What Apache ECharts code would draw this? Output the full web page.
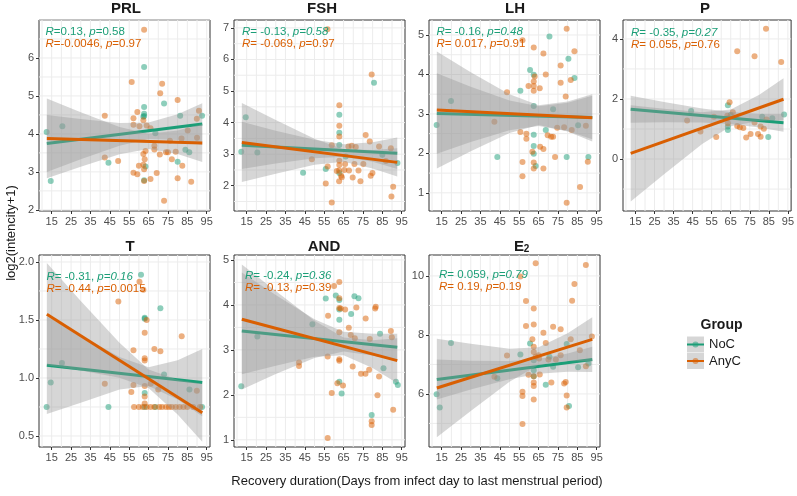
<!DOCTYPE html>
<html>
<head>
<meta charset="utf-8">
<title>Hormones vs recovery duration</title>
<script src="https://cdn.jsdelivr.net/npm/echarts@6/dist/echarts.min.js"></script>
<style>
html, body { margin: 0; padding: 0; background: #fff; }
#chart { width: 797px; height: 496px; }
</style>
</head>
<body>
<div id="chart"></div>
<script>
var FONT = '"Liberation Sans", Arial, sans-serif';
var green = '#1B9E77', orange = '#D95F02';

// ---- data ----
var panelNames = ['PRL', 'FSH', 'LH', 'P', 'T', 'AND', 'E2'];
var xTicks = [15, 25, 35, 45, 55, 65, 75, 85, 95];
var xRange = [8.45, 96.7];
var yTicks = [[2, 3, 4, 5, 6], [2, 3, 4, 5, 6, 7], [1, 2, 3, 4, 5], [0, 2, 4], [0.5, 1.0, 1.5, 2.0], [1, 2, 3, 4, 5], [6, 8, 10]];
var yDecimals = [0, 0, 0, 0, 1, 0, 0];
var yRange = [[1.97, 7.0], [1.2, 7.25], [0.54, 5.38], [-1.73, 4.63], [0.405, 2.06], [0.84, 5.11], [4.2, 10.71]];

var prlNoC = [[12.4,4.05],[14.5,2.76],[20.5,4.2],[44.3,3.24],[62.3,4.45],[62.7,5.76],[62.7,4.71],[62.7,4.53],[62.7,4.47],[63.4,3.14],[62.7,2.78],[68.5,4.02],[73,4.8],[81.3,4.48],[80,3.27],[84,3.58],[86,3.52],[92.6,4.48]];
var prlAnyC = [[62.7,6.74],[56.3,5.37],[72,5.32],[71,5.07],[80,4.89],[59.2,4.58],[42.4,4.48],[57.2,4.41],[62.3,4.36],[57.2,4.24],[60.3,4.2],[64,4.22],[66,4.15],[91,4.61],[89.9,4.4],[85.2,4.09],[82,3.88],[76,3.82],[68,3.69],[68,3.59],[70.8,3.46],[63.4,3.55],[62.3,3.47],[63,3.33],[62.3,3.19],[62.7,3.07],[60,3.16],[42.4,3.38],[49.3,3.29],[74,3.52],[75,3.52],[79,3.53],[77,3.33],[82.4,3.16],[57.2,2.98],[59.2,2.94],[66,2.81],[69.2,2.97],[62.7,2.76],[80,2.83],[87,2.74],[73,2.24],[90,3.9]];
var fshNoC = [[12.2,3.08],[14.5,4.17],[20.5,3.05],[44.1,2.41],[55.8,2.53],[62.8,4.25],[62.8,3.68],[62.8,3.29],[62.8,2.4],[66.1,2.93],[80.7,5.26],[85,2.98],[92.8,2.72]];
var fshAnyC = [[56.7,6.96],[79.5,5.52],[62.8,4.55],[62.8,3.9],[62.8,3.56],[76.4,3.61],[78.5,3.4],[69.2,3.27],[67.5,3.24],[71.3,3.23],[58.9,3.28],[83.3,3.24],[89.4,3.19],[48.6,2.84],[56.8,2.61],[62.8,2.79],[62.8,2.66],[65.8,2.69],[70.6,2.69],[75.2,2.69],[62.7,2.48],[61.5,2.47],[65.4,2.5],[67.8,2.48],[72.7,2.48],[79,2.32],[79.9,2.4],[63.7,2.32],[64.1,2.27],[69.7,2.26],[73.7,2.14],[62.7,2.14],[55.8,2.07],[58.9,1.47],[90.6,1.97],[89.7,1.66],[86.8,2.78]];
var lhNoC = [[12.4,2.72],[19.8,3.33],[43.7,1.91],[55.6,3.59],[60.6,4.11],[62.5,3.99],[62.5,3.2],[62.5,2.47],[62.5,2.19],[62.5,1.99],[63.5,1.68],[70.6,4.96],[68.7,2.59],[72.5,3.12],[80.4,4.4],[83.5,3.91],[79.5,1.91],[85.4,2.71],[90.7,1.91]];
var lhAnyC = [[79.5,5.16],[56.7,4.87],[62.5,4.68],[67.5,4.53],[83.5,4.59],[76.4,4.23],[68.7,4.0],[63,3.95],[62.5,3.82],[59.8,3.71],[62.5,3.71],[65.6,3.65],[62.5,3.59],[76.4,3.79],[81.6,3.86],[48.7,3.55],[79,3.44],[42.2,2.8],[55.6,2.54],[58.7,2.5],[58.7,2.37],[69.7,2.46],[71.5,2.42],[72.5,2.42],[74.6,2.65],[78.2,2.66],[82.1,2.59],[89.4,2.7],[65.8,2.17],[67.5,2.11],[61.8,2.04],[62.5,1.77],[62.5,1.62],[67.5,1.62],[56.7,1.78],[56.7,1.42],[73.5,1.91],[90.4,1.79],[86.4,1.15],[79.5,0.75]];
var pNoC = [[44.2,1.6],[63.5,1.79],[63.5,1.08],[63.5,0.97],[65,1.47],[81.5,1.41],[84.7,0.73],[86.8,1.36],[93,1.48]];
var pAnyC = [[83.5,4.34],[68.4,3.59],[77.5,3.42],[91.5,3.23],[64.4,1.89],[66.1,1.56],[63.2,1.44],[42.1,1.28],[49.1,0.92],[57.4,0.73],[68.4,1.1],[69.8,1.06],[71.6,1.03],[73.1,0.72],[75.4,0.83],[77.5,1.22],[79.3,0.83],[80.7,0.74],[80.7,1.08],[82.4,1.01],[83.8,1.32],[63.5,1.19],[63.5,1.36],[56.2,1.41]];
var tNoC = [[12.4,0.75],[14.5,0.96],[20.3,1.13],[44.3,0.75],[61.1,1.89],[63,1.52],[63,1.51],[71.1,1.6],[73,1.03],[63,0.87],[86.1,0.9],[92.6,0.75],[63,0.75],[68.5,0.75]];
var tAnyC = [[60.3,1.83],[62.3,1.76],[49.4,1.66],[64,1.5],[63,1.39],[82.1,1.36],[57.2,1.24],[68,1.25],[71.1,1.23],[63,1.17],[63,1.15],[42.4,0.95],[57.2,0.94],[56.1,0.88],[63,0.93],[63,0.84],[63,0.78],[66.1,0.95],[70,0.9],[89.9,0.89],[57.5,0.75],[60,0.75],[62,0.75],[64,0.75],[66,0.75],[68,0.75],[70.5,0.75],[72,0.75],[74,0.75],[75.5,0.75],[77,0.75],[79,0.75],[81,0.75],[83,0.75],[85,0.75],[88,0.75],[91.5,0.75]];
var andNoC = [[12.2,2.19],[20.5,3.3],[48.9,3.57],[55.8,4.14],[61,4.21],[62.8,4.11],[62.8,3.9],[62.8,3.67],[62.8,2.29],[64,2.03],[68.9,3.8],[70.6,4.19],[72.7,4.15],[79.5,1.55],[83.8,3.36],[85.6,2.59],[92,2.29],[93,2.22]];
var andAnyC = [[62.8,4.51],[60.1,4.42],[62.8,4.15],[62.8,3.93],[63.5,3.92],[65.8,3.9],[71.6,3.94],[81.3,3.92],[81.6,3.96],[76.4,3.7],[57,3.76],[67.7,3.49],[68.7,3.33],[70.8,3.26],[78.5,3.24],[89.4,3.42],[89.9,3.28],[62.8,3.39],[42,2.72],[42,2.64],[56.8,2.85],[62.8,2.79],[62.8,2.76],[69.7,2.63],[74,2.47],[76.3,2.47],[78.2,2.56],[83.3,2.41],[61.8,2.26],[64.7,2.21],[58.9,2.04],[82.5,1.99],[79.5,1.41],[79.5,1.33],[90.6,1.67],[56.8,1.04]];
var e2NoC = [[12.4,5.99],[14,5.54],[19.8,7.73],[43.7,6.53],[55.6,7.34],[60.6,7.71],[62.5,7.14],[62.5,6.8],[62.5,6.6],[68.7,6.31],[70.6,7.26],[72.5,6.92],[79.5,7.69],[80.7,5.59],[85.4,6.9],[90.7,7.03]];
var e2AnyC = [[63.5,10.43],[89.4,10.37],[55.6,9.98],[83.5,9.73],[58.5,9.15],[82.3,9.16],[62.5,8.9],[58.5,8.3],[62.5,8.35],[67.5,8.07],[72.5,8.28],[76.4,8.19],[61.8,7.85],[81.6,7.85],[68.7,7.73],[48.7,7.3],[62.5,7.6],[62.5,7.42],[63.5,7.26],[65,7.31],[65.3,7.2],[70.1,7.17],[73.9,7.17],[76.4,7.31],[86.3,7.48],[89.4,6.94],[42.2,6.58],[59.8,6.65],[65.6,6.66],[71.6,6.39],[78.2,6.35],[79,6.4],[62.5,6.39],[62.5,6.27],[56.7,6.07],[56.7,5.93],[79.5,5.95],[79.5,5.54],[62.5,5.81],[56.7,4.98],[62.5,6.6],[92.5,7.95]];

var pointsNoC = [prlNoC, fshNoC, lhNoC, pNoC, tNoC, andNoC, e2NoC];
var pointsAnyC = [prlAnyC, fshAnyC, lhAnyC, pAnyC, tAnyC, andAnyC, e2AnyC];

// fitted lines: y at fitX[0] and fitX[1]
var fitX = [12.5, 92.7];
var fitNoC = [[3.75,4.26],[3.28,3.03],[3.01,2.91],[1.66,1.21],[1.11,0.96],[3.42,3.06],[6.49,7.17]];
var fitAnyC = [[3.88,3.76],[3.37,2.74],[3.10,2.90],[0.19,1.99],[1.55,0.70],[3.68,2.76],[6.20,7.85]];

// confidence band half-widths at bandX
var bandX = [12.5, 30, 50, 65, 80, 92.7];
var bandNoC = [[0.75,0.53,0.30,0.22,0.34,0.55],[0.75,0.52,0.29,0.2,0.31,0.5],[1.02,0.70,0.38,0.25,0.36,0.55],[0.45,0.34,0.23,0.2,0.23,0.3],[0.42,0.29,0.14,0.08,0.17,0.29],[1.3,0.88,0.43,0.22,0.24,0.3],[0.68,0.49,0.31,0.25,0.31,0.43]];
var bandAnyC = [[1.05,0.72,0.36,0.2,0.31,0.5],[1.25,0.85,0.41,0.2,0.29,0.45],[1.48,1.0,0.49,0.25,0.38,0.6],[1.6,1.09,0.53,0.28,0.44,0.7],[0.44,0.30,0.15,0.08,0.15,0.25],[1.22,0.83,0.40,0.2,0.31,0.5],[1.67,1.14,0.56,0.3,0.47,0.75]];

var rNoC = ['0.13','-0.13','-0.16','-0.35','-0.31','-0.24','0.059'];
var pvNoC = ['0.58','0.58','0.48','0.27','0.16','0.36','0.79'];
var rAnyC = ['-0.0046','-0.069','0.017','0.055','-0.44','-0.13','0.19'];
var pvAnyC = ['0.97','0.97','0.91','0.76','0.0015','0.39','0.19'];

// ---- layout ----
var gridLeft = [39, 234, 429, 623, 39, 234, 429];
var gridTop = [20, 20, 20, 20, 255, 255, 255];
var gridH = [191, 191, 191, 191, 192, 192, 192];
var titleX = [126, 322, 515, 705, 130, 324, 519];
var titleY = [9, 9, 9, 9, 246.5, 246.5, 246.5];
var statX = [45.5, 242, 436.5, 631, 46.5, 245, 439];
var statY = [32, 32, 32, 33, 277, 275.5, 275];

function fitAt(fit, x) {
  return fit[0] + (fit[1] - fit[0]) * (x - fitX[0]) / (fitX[1] - fitX[0]);
}

var grids = [], xAxes = [], yAxes = [], series = [], graphics = [];

panelNames.forEach(function (name, i) {
  var yr = yRange[i];
  grids.push({ left: gridLeft[i], top: gridTop[i], width: 171, height: gridH[i], show: true,
    borderColor: '#333', borderWidth: 1, backgroundColor: '#fff' });
  xAxes.push({ type: 'value', gridIndex: i, min: xRange[0], max: xRange[1],
    axisLine: { show: false, onZero: false }, splitLine: { show: false },
    axisTick: { show: true, customValues: xTicks, length: 3, lineStyle: { color: '#333' } },
    axisLabel: { customValues: xTicks, fontSize: 11, color: '#4d4d4d', margin: 5, fontFamily: FONT } });
  yAxes.push({ type: 'value', gridIndex: i, min: yr[0], max: yr[1],
    axisLine: { show: false, onZero: false }, splitLine: { show: false },
    axisTick: { show: true, customValues: yTicks[i], length: 3, lineStyle: { color: '#333' } },
    axisLabel: { customValues: yTicks[i], fontSize: 11, color: '#4d4d4d', margin: 5, fontFamily: FONT,
      formatter: function (v) { return Number(v).toFixed(yDecimals[i]); } } });

  // grid lines (major at ticks, minor halfway)
  series.push({ type: 'custom', z: 1, xAxisIndex: i, yAxisIndex: i, silent: true, data: [[xRange[0], yr[0]]],
    renderItem: function (params, api) {
      var ch = [];
      var xs = xTicks[1] - xTicks[0], ys = yTicks[i][1] - yTicks[i][0];
      var v;
      for (v = xTicks[0] - xs / 2; v <= xRange[1]; v += xs / 2) {
        if (v < xRange[0]) continue;
        var a = api.coord([v, yr[0]]), b = api.coord([v, yr[1]]);
        ch.push({ type: 'line', shape: { x1: a[0], y1: a[1], x2: b[0], y2: b[1] },
          style: { stroke: '#ececec', lineWidth: 1 } });
      }
      for (v = yTicks[i][0] - ys / 2; v <= yr[1]; v += ys / 2) {
        if (v < yr[0]) continue;
        var c = api.coord([xRange[0], v]), d = api.coord([xRange[1], v]);
        ch.push({ type: 'line', shape: { x1: c[0], y1: c[1], x2: d[0], y2: d[1] },
          style: { stroke: '#ececec', lineWidth: 1 } });
      }
      return { type: 'group', children: ch };
    } });

  series.push({ type: 'scatter', z: 2, name: 'NoC', xAxisIndex: i, yAxisIndex: i, data: pointsNoC[i],
    symbolSize: 6, silent: true, itemStyle: { color: green, opacity: 0.5 } });
  series.push({ type: 'scatter', z: 2, name: 'AnyC', xAxisIndex: i, yAxisIndex: i, data: pointsAnyC[i],
    symbolSize: 6, silent: true, itemStyle: { color: orange, opacity: 0.5 } });

  [[fitNoC[i], bandNoC[i], green, 'NoC', 3], [fitAnyC[i], bandAnyC[i], orange, 'AnyC', 5]].forEach(function (g) {
    var fit = g[0], hw = g[1];
    series.push({ type: 'custom', z: g[4], xAxisIndex: i, yAxisIndex: i, clip: true, silent: true,
      data: [[fitX[0], fit[0]]],
      renderItem: function (params, api) {
        var up = [], lo = [];
        bandX.forEach(function (x, k) {
          var y = fitAt(fit, x);
          up.push(api.coord([x, y + hw[k]]));
          lo.unshift(api.coord([x, y - hw[k]]));
        });
        return { type: 'polygon', shape: { points: up.concat(lo) },
          style: { fill: 'rgba(153,153,153,0.4)' } };
      } });
    series.push({ type: 'line', z: g[4] + 1, name: g[3], xAxisIndex: i, yAxisIndex: i, silent: true,
      data: [[fitX[0], fit[0]], [fitX[1], fit[1]]], symbol: 'none',
      lineStyle: { color: g[2], width: 3 } });
  });

  // panel title
  if (name === 'E2') {
    graphics.push({ type: 'text', z: 100, x: titleX[i], y: titleY[i], style: { text: 'E', textAlign: 'center',
      textVerticalAlign: 'middle', font: 'bold 15px ' + FONT, fill: '#1a1a1a' } });
    graphics.push({ type: 'text', z: 100, x: titleX[i] + 7.5, y: titleY[i] + 3, style: { text: '2', textAlign: 'center',
      textVerticalAlign: 'middle', font: 'bold 10px ' + FONT, fill: '#1a1a1a' } });
  } else {
    graphics.push({ type: 'text', z: 100, x: titleX[i], y: titleY[i], style: { text: name, textAlign: 'center',
      textVerticalAlign: 'middle', font: 'bold 15px ' + FONT, fill: '#1a1a1a' } });
  }

  // correlation annotations
  var eq = i === 0 ? '=' : '= ';
  var noPv = i === 0 ? '{n|=' + pvNoC[i] + '}' : '{i|=' + pvNoC[i] + '}';
  var stats = [
    ['{i|R}{n|' + eq + rNoC[i] + ', }{i|p}' + noPv, green, statY[i]],
    ['{i|R}{n|' + eq + rAnyC[i] + ', }{i|p}{n|=' + pvAnyC[i] + '}', orange, statY[i] + 12]
  ];
  stats.forEach(function (s) {
    graphics.push({ type: 'text', z: 100, x: statX[i], y: s[2], style: { text: s[0], textAlign: 'left',
      textVerticalAlign: 'middle', fill: s[1], fontSize: 11.5, fontFamily: FONT,
      rich: { i: { fontStyle: 'italic', fontSize: 11.5, fontFamily: FONT, fill: s[1] },
              n: { fontSize: 11.5, fontFamily: FONT, fill: s[1] } } } });
  });
});

// axis titles
graphics.push({ type: 'text', z: 100, x: 11, y: 233, rotation: Math.PI / 2, style: { text: 'log2(intencity+1)',
  textAlign: 'center', textVerticalAlign: 'middle', font: '13px ' + FONT, fill: '#1a1a1a' } });
graphics.push({ type: 'text', z: 100, x: 417, y: 481, style: { text: 'Recovery duration(Days from infect day to last menstrual period)',
  textAlign: 'center', textVerticalAlign: 'middle', font: '13px ' + FONT, fill: '#1a1a1a' } });

// legend
graphics.push({ type: 'text', z: 100, x: 700.5, y: 325, style: { text: 'Group', textAlign: 'left',
  textVerticalAlign: 'middle', font: 'bold 14px ' + FONT, fill: '#1a1a1a' } });
[['NoC', green, 336.5], ['AnyC', orange, 353]].forEach(function (k) {
  var cy = k[2] + 8;
  graphics.push({ type: 'rect', z: 100, shape: { x: 687, y: k[2], width: 17, height: 16 }, style: { fill: '#d6d6d6' } });
  graphics.push({ type: 'circle', z: 101, shape: { cx: 695.5, cy: cy, r: 3 }, style: { fill: k[1], opacity: 0.5 } });
  graphics.push({ type: 'line', z: 102, shape: { x1: 687, y1: cy, x2: 704, y2: cy }, style: { stroke: k[1], lineWidth: 2 } });
  graphics.push({ type: 'text', z: 100, x: 709, y: cy, style: { text: k[0], textAlign: 'left',
    textVerticalAlign: 'middle', font: '13px ' + FONT, fill: '#1a1a1a' } });
});

var chart = echarts.init(document.getElementById('chart'));
chart.setOption({
  animation: false,
  backgroundColor: '#fff',
  grid: grids,
  xAxis: xAxes,
  yAxis: yAxes,
  series: series,
  graphic: graphics
});
</script>
</body>
</html>
